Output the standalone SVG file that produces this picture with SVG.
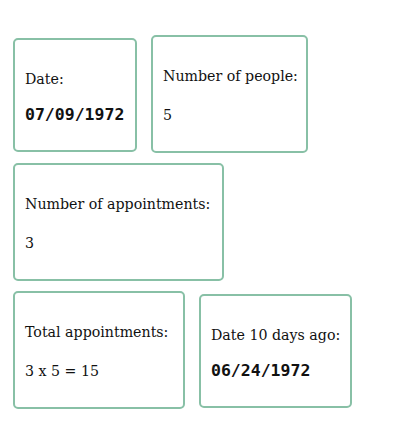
<svg xmlns="http://www.w3.org/2000/svg" width="400" height="422" viewBox="0 0 400 422">
<style>
.box{fill:#fff;stroke:#88c0a6;stroke-width:2}
.lbl{font-family:"DejaVu Serif","Liberation Serif",serif;font-size:14.2px;fill:#111}
.mono{font-family:"DejaVu Sans Mono","Liberation Mono",monospace;font-size:16.5px;font-weight:bold;fill:#111}
</style>
<rect width="400" height="422" fill="#fff"/>
<g id="date">
<rect class="box" x="14" y="39" width="122" height="112" rx="4"/>
<text class="lbl" x="25" y="84">Date:</text>
<text class="mono" x="25" y="120">07/09/1972</text>
</g>
<g id="people">
<rect class="box" x="152" y="36" width="155" height="116" rx="4"/>
<text class="lbl" x="163" y="81">Number of people:</text>
<text class="lbl" x="163" y="120">5</text>
</g>
<g id="appointments">
<rect class="box" x="14" y="164" width="209" height="116" rx="4"/>
<text class="lbl" x="25" y="209">Number of appointments:</text>
<text class="lbl" x="25" y="248">3</text>
</g>
<g id="total">
<rect class="box" x="14" y="292" width="170" height="116" rx="4"/>
<text class="lbl" x="25" y="337">Total appointments:</text>
<text class="lbl" x="25" y="376">3 x 5 = 15</text>
</g>
<g id="ago">
<rect class="box" x="200" y="295" width="151" height="112" rx="4"/>
<text class="lbl" x="211" y="340">Date 10 days ago:</text>
<text class="mono" x="211" y="376">06/24/1972</text>
</g>
<g id="connectors"/>
</svg>
